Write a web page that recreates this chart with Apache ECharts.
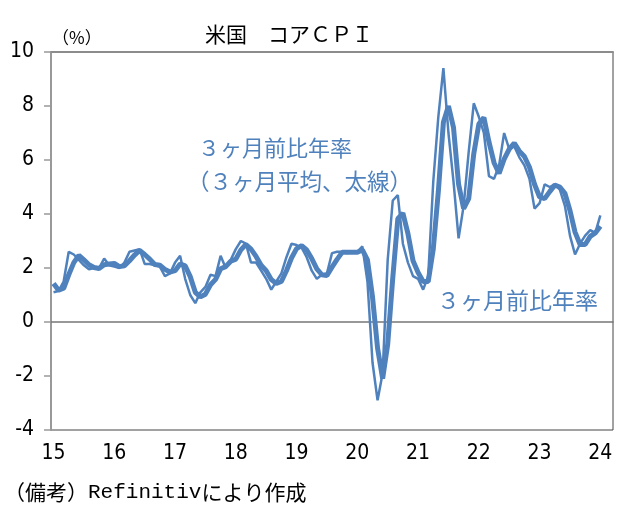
<!DOCTYPE html>
<html><head><meta charset="utf-8">
<script src="https://cdn.jsdelivr.net/npm/echarts@6/dist/echarts.min.js"></script>
<style>html,body{margin:0;padding:0;background:#fff}#c{width:622px;height:511px}</style>
</head><body><div id="c"></div>
<script>
// Months Jan 2015 .. Mar 2024 (axis extends two months past last data point)
const months = [];
for (let y = 2015; y <= 2024; y++) {
  for (let m = 1; m <= 12; m++) {
    if (y === 2024 && m > 3) break;
    months.push(y + '-' + (m < 10 ? '0' + m : m));
  }
}
const yearLabels = ['15','16','17','18','19','20','21','22','23','24'];

// ３ヶ月前比年率 (thin)
const rate3m = [
  1.1, 1.15, 1.5, 2.6, 2.5, 2.3, 2.1, 1.95, 2.0, 2.0, 2.35, 2.1,
  2.05, 2.0, 2.2, 2.6, 2.65, 2.7, 2.15, 2.15, 2.1, 2.05, 1.7, 1.8,
  2.2, 2.45, 1.6, 1.0, 0.7, 1.1, 1.3, 1.75, 1.7, 2.45, 2.0, 2.3,
  2.7, 3.0, 2.9, 2.2, 2.2, 1.9, 1.6, 1.2, 1.5, 1.8, 2.4, 2.9,
  2.85, 2.75, 2.4, 1.9, 1.6, 1.75, 1.8, 2.55, 2.6, 2.6, 2.55, 2.6,
  2.6, 2.8, 1.5, -1.5, -2.9, -1.9, 2.3, 4.5, 4.7, 2.9, 2.2, 1.7,
  1.6, 1.2, 1.7, 5.2, 7.6, 9.4, 7.0, 5.2, 3.1, 4.3, 6.3, 8.1,
  7.6, 7.0, 5.4, 5.3, 5.8, 7.0, 6.4, 6.5, 6.1, 5.8, 5.3, 4.2,
  4.4, 5.1, 5.0, 5.1, 4.9, 4.3, 3.2, 2.5, 2.9, 3.2, 3.4, 3.3,
  3.95
];
// ３ヶ月前比年率（３ヶ月平均、太線）
const rate3mAvg = [
  1.43, 1.18, 1.25, 1.75, 2.2, 2.47, 2.3, 2.12, 2.02, 1.98, 2.12, 2.15,
  2.17, 2.05, 2.08, 2.27, 2.48, 2.65, 2.5, 2.33, 2.13, 2.1, 1.95, 1.85,
  1.9, 2.15, 2.08, 1.68, 1.1, 0.93, 1.03, 1.38, 1.58, 1.97, 2.05, 2.25,
  2.33, 2.67, 2.87, 2.7, 2.43, 2.1, 1.9, 1.57, 1.43, 1.5, 1.9, 2.37,
  2.72, 2.83, 2.67, 2.35, 1.97, 1.75, 1.72, 2.03, 2.32, 2.58, 2.58, 2.58,
  2.58, 2.67, 2.3, 0.93, -0.97, -2.1, -0.83, 1.63, 3.83, 4.03, 3.27, 2.27,
  1.83, 1.5, 1.5, 2.7, 4.83, 7.4, 8.0, 7.2, 5.1, 4.2, 4.57, 6.23,
  7.33, 7.57, 6.67, 5.9, 5.5, 6.03, 6.4, 6.63, 6.33, 6.13, 5.73, 5.1,
  4.63, 4.57, 4.83, 5.07, 5.0, 4.77, 4.13, 3.33, 2.87, 2.87, 3.17, 3.3,
  3.55
];

const BLUE = '#4F81BD';
const NUM_FONT = "'Liberation Sans Narrow','DejaVu Sans Condensed','Roboto',sans-serif";
const JP_FONT = "'Noto Sans CJK JP','Noto Sans',sans-serif";

const chart = echarts.init(document.getElementById('c'), null, {renderer: 'canvas'});
chart.setOption({
  animation: false,
  backgroundColor: '#fff',
  grid: {left: 51, right: 9, top: 52, bottom: 81, show: true, borderColor: '#444', borderWidth: 1, containLabel: false},
  title: {
    text: '米国　コアＣＰＩ', left: 284, top: 19, textAlign: 'center',
    textStyle: {fontFamily: JP_FONT, fontSize: 21, fontWeight: 'normal', color: '#000'}
  },
  xAxis: [{
    type: 'category', data: months, boundaryGap: true,
    axisLine: {show: true, lineStyle: {color: '#777', width: 1.5}},
    axisTick: {show: false},
    axisLabel: {
      interval: function (idx) { return idx % 12 === 0; },
      formatter: function (v, idx) { return yearLabels[Math.round(idx / 12)]; },
      fontFamily: NUM_FONT, fontSize: 21, color: '#000', margin: 13
    },
    splitLine: {show: false}
  }, {
    type: 'category', data: months, boundaryGap: true, position: 'top',
    axisLine: {show: true, lineStyle: {color: '#8c8c8c', width: 2}},
    axisTick: {show: false}, axisLabel: {show: false}, splitLine: {show: false}
  }],
  yAxis: {
    type: 'value', min: -4, max: 10, interval: 2,
    axisLine: {show: true, lineStyle: {color: '#999', width: 2}},
    axisTick: {show: true, inside: false, length: 7, lineStyle: {color: '#999', width: 1.5}},
    axisLabel: {fontFamily: NUM_FONT, fontSize: 21, color: '#000', margin: 17},
    splitLine: {show: false}
  },
  series: [{
    name: '３ヶ月前比年率', type: 'line', data: rate3m, symbol: 'none',
    lineStyle: {color: BLUE, width: 2.5}, itemStyle: {color: BLUE}, z: 2
  }, {
    name: '３ヶ月前比年率（３ヶ月平均、太線）', type: 'line', data: rate3mAvg, symbol: 'none',
    lineStyle: {color: BLUE, width: 5}, itemStyle: {color: BLUE}, z: 3
  }],
  graphic: [
    {type: 'text', left: 52, top: 29, style: {text: '（%）', fontFamily: JP_FONT, fontSize: 17, fill: '#000'}},
    {type: 'text', left: 198, top: 137, style: {text: '３ヶ月前比年率', fontFamily: JP_FONT, fontSize: 22, fill: BLUE}},
    {type: 'text', left: 187, top: 170, style: {text: '（３ヶ月平均、太線）', fontFamily: JP_FONT, fontSize: 22.5, fill: BLUE}},
    {type: 'text', left: 437, top: 289, style: {text: '３ヶ月前比年率', fontFamily: JP_FONT, fontSize: 23, fill: BLUE}},
    {type: 'text', left: 4, top: 482, style: {
      text: '{a|（備考）}{b|Refinitiv}{a|により作成}',
      rich: {
        a: {fontFamily: JP_FONT, fontSize: 21, color: '#000'},
        b: {fontFamily: "'Liberation Mono','DejaVu Sans Mono',monospace", fontSize: 21, color: '#000'}
      }
    }}
  ]
});
</script></body></html>
